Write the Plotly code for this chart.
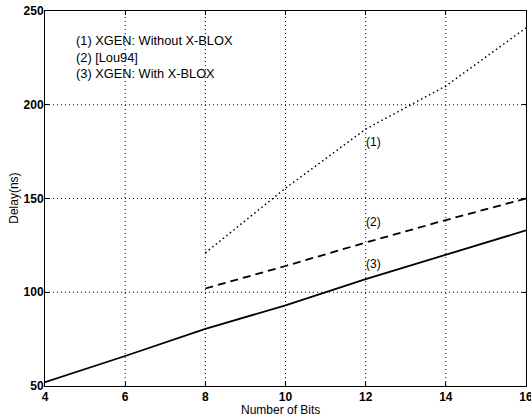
import plotly.graph_objects as go

bits_all = [4, 6, 8, 10, 12, 14, 16]
bits_8up = [8, 10, 12, 14, 16]
xgen_without = [121, 155.5, 187, 210, 241]
lou94 = [102, 114, 126.5, 138.5, 150]
xgen_with = [52, 66, 80.5, 93, 107, 120, 133]

x_ticks = [4, 6, 8, 10, 12, 14, 16]
y_ticks = [50, 100, 150, 200, 250]

curve_labels = ["(1)", "(2)", "(3)"]
curve_label_x = [12.2, 12.2, 12.2]
curve_label_y = [180, 137.5, 115]

legend_lines = ["(1) XGEN: Without X-BLOX", "(2) [Lou94]", "(3) XGEN: With X-BLOX"]

FAM = "Liberation Sans, Arial, sans-serif"
font = dict(family=FAM, size=12, color="black")
tfont = dict(family=FAM, size=12, color="black", weight="bold")
lfont = dict(family=FAM, size=12.8, color="black")

fig = go.Figure()
fig.add_trace(go.Scatter(x=bits_8up, y=xgen_without, mode="lines",
                         line=dict(color="black", width=1.5, dash="1.5px,3px")))
fig.add_trace(go.Scatter(x=bits_8up, y=lou94, mode="lines",
                         line=dict(color="black", width=1.8, dash="8px,5px")))
fig.add_trace(go.Scatter(x=bits_all, y=xgen_with, mode="lines",
                         line=dict(color="black", width=1.8)))

# dotted grid lines at tick positions
for xv in x_ticks[1:-1]:
    fig.add_shape(type="line", xref="x", yref="paper", x0=xv, x1=xv, y0=0, y1=1,
                  line=dict(color="black", width=1, dash="1px,3px"), layer="below")
for yv in y_ticks[1:-1]:
    fig.add_shape(type="line", xref="paper", yref="y", x0=0, x1=1, y0=yv, y1=yv,
                  line=dict(color="black", width=1, dash="1px,3px"), layer="below")

for t, xx, yy in zip(curve_labels, curve_label_x, curve_label_y):
    fig.add_annotation(x=xx, y=yy, text=t, showarrow=False, font=font,
                       xanchor="center", yanchor="middle")

fig.add_annotation(xref="paper", yref="paper", x=0.06, y=0.877,
                   text="<br>".join(legend_lines), showarrow=False, align="left",
                   xanchor="left", yanchor="middle", font=lfont)

# axis titles
fig.add_annotation(xref="paper", yref="paper", x=0.49, y=-0.064, text="Number of Bits",
                   showarrow=False, font=font, xanchor="center", yanchor="middle")
fig.add_annotation(xref="paper", yref="paper", x=-0.066, y=0.5, text="Delay(ns)",
                   showarrow=False, font=font, xanchor="center", yanchor="middle",
                   textangle=-90)

axis_common = dict(showline=True, linecolor="black", linewidth=1, mirror="ticks",
                   ticks="inside", ticklen=4, tickcolor="black",
                   showgrid=False, zeroline=False, tickfont=tfont, automargin=False,
                   ticklabeloverflow="allow")

fig.update_xaxes(range=[4, 16], tickvals=x_ticks, **axis_common)
fig.update_yaxes(range=[50, 250], tickvals=y_ticks, ticklabelstandoff=-2, **axis_common)

fig.update_layout(width=531, height=418, showlegend=False,
                  margin=dict(l=45, r=5, t=11, b=32),
                  plot_bgcolor="white", paper_bgcolor="white", font=font)

fig.write_html("out.html", config={"displayModeBar": False},
               post_script="document.body.style.margin='0';document.body.style.overflow='hidden';")
